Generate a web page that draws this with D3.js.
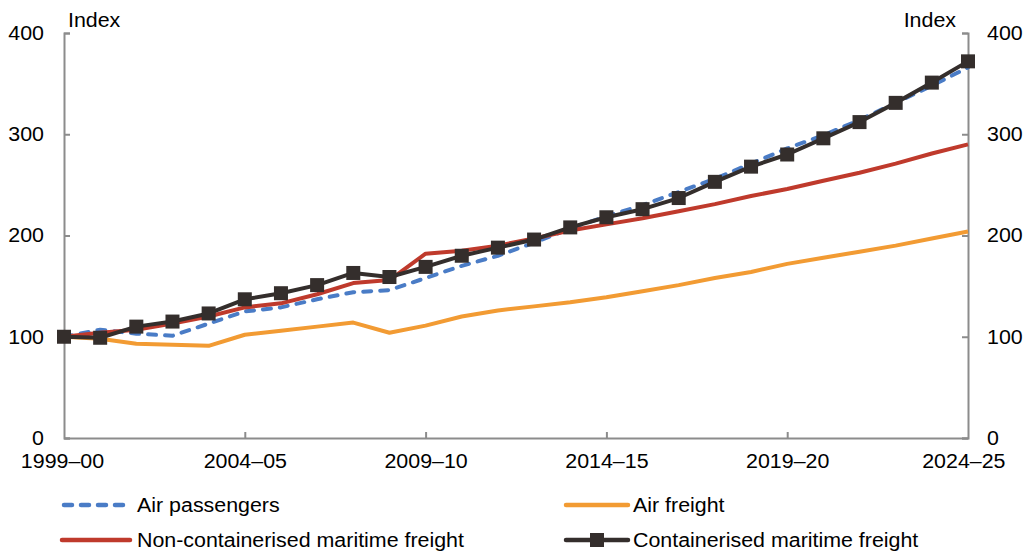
<!DOCTYPE html>
<html>
<head>
<meta charset="utf-8">
<script src="https://cdn.jsdelivr.net/npm/d3@7/dist/d3.min.js"></script>
<style>
  html, body { margin: 0; padding: 0; background: #fff; }
  svg { display: block; font-family: "Liberation Sans", Arial, sans-serif; }
</style>
</head>
<body>
<svg id="chart" width="1024" height="551"></svg>
<script>
// Financial years shown on the x axis
const years = [
  "1999–00","2000–01","2001–02","2002–03","2003–04","2004–05","2005–06","2006–07",
  "2007–08","2008–09","2009–10","2010–11","2011–12","2012–13","2013–14","2014–15",
  "2015–16","2016–17","2017–18","2018–19","2019–20","2020–21","2021–22","2022–23",
  "2023–24","2024–25"
];
const xTickLabels = ["1999–00","2004–05","2009–10","2014–15","2019–20","2024–25"];
const yTicks = [0, 100, 200, 300, 400];

// Index values (1999–00 = 100)
const airPassengers = [100,107,103,101,113,125,129,137,144,146,158,170,180,193,207,219,230,243,256,271,286,299,314,331,348,366];
const airFreight = [100,98,93,92,91,102,106,110,114,104,111,120,126,130,134,139,145,151,158,164,172,178,184,190,197,204];
const nonContainerised = [100,104,107,113,120,129,133,142,153,156,182,185,190,197,205,211,217,224,231,239,246,254,262,271,281,290];
const containerised = [100,99,110,115,123,137,143,151,163,159,169,180,188,196,208,218,226,237,253,268,280,296,312,331,351,372];

const series = [
  { name: "Air passengers", values: airPassengers, color: "#4a7cc6", dash: "8,9", cap: "round" },
  { name: "Air freight", values: airFreight, color: "#f29b33" },
  { name: "Non-containerised maritime freight", values: nonContainerised, color: "#bf3a2c" },
  { name: "Containerised maritime freight", values: containerised, color: "#342e2c", marker: true }
];

const svg = d3.select("#chart");
const plotLeft = 64, plotRight = 968, plotTop = 33, plotBottom = 438;
const axisColor = "#8c8c8c";
const fontSize = 20, widen = 1.07;

// Slightly widen text glyphs around each label's own anchor point
function widenText(sel) {
  sel.each(function () {
    const t = d3.select(this);
    const ax = +t.attr("x") || 0;
    t.attr("transform", `translate(${ax},0) scale(${widen},1) translate(${-ax},0)`);
  });
}

const x = d3.scalePoint().domain(years).range([plotLeft, plotRight]);
const y = d3.scaleLinear().domain([0, 400]).range([plotBottom, plotTop]);

// Axes: ticks point inward on all three sides
const axisStyle = g => {
  g.select(".domain").attr("stroke", axisColor).attr("stroke-width", 2);
  g.selectAll(".tick line").attr("stroke", axisColor).attr("stroke-width", 2);
  g.selectAll(".tick text").attr("fill", "#000").attr("font-size", fontSize)
    .attr("font-family", "'Liberation Sans', Arial, sans-serif");
};

const yLeft = svg.append("g")
  .attr("transform", `translate(${plotLeft},0)`)
  .call(d3.axisLeft(y).tickValues(yTicks).tickSizeInner(-6).tickSizeOuter(-6).tickPadding(20))
  .call(axisStyle);
widenText(yLeft.selectAll(".tick text"));

const yRight = svg.append("g")
  .attr("transform", `translate(${plotRight},0)`)
  .call(d3.axisRight(y).tickValues(yTicks).tickSizeInner(-6).tickSizeOuter(-6).tickPadding(19))
  .call(axisStyle);
widenText(yRight.selectAll(".tick text"));

const xAxis = svg.append("g")
  .attr("transform", `translate(0,${plotBottom})`)
  .call(d3.axisBottom(x).tickValues(xTickLabels).tickSizeInner(-6).tickSizeOuter(0).tickPadding(16))
  .call(axisStyle);
xAxis.selectAll(".tick text").attr("dy", "0.71em");
// end ticks coincide with the vertical axes
xAxis.selectAll(".tick").filter(d => d === years[0] || d === years[years.length - 1])
  .select("line").remove();
xAxis.selectAll(".tick").filter(d => d === years[0])
  .select("text").attr("x", -2);
xAxis.selectAll(".tick").filter(d => d === years[years.length - 1])
  .select("text").attr("text-anchor", "end").attr("x", 37);
widenText(xAxis.selectAll(".tick text"));

// Axis unit labels
svg.append("text").attr("x", 68).attr("y", 27).attr("font-size", fontSize).text("Index")
  .call(widenText);
svg.append("text").attr("x", 956).attr("y", 27).attr("font-size", fontSize)
  .attr("text-anchor", "end").text("Index").call(widenText);

// Lines
const line = d3.line().x((d, i) => x(years[i])).y(d => y(d));
const plot = svg.append("g");
series.forEach(s => {
  plot.append("path")
    .attr("d", line(s.values))
    .attr("fill", "none")
    .attr("stroke", s.color)
    .attr("stroke-width", 4)
    .attr("stroke-linejoin", "round")
    .attr("stroke-linecap", s.cap || "butt")
    .attr("stroke-dasharray", s.dash || null);
  if (s.marker) {
    plot.selectAll(null).data(s.values).enter().append("rect")
      .attr("x", (d, i) => x(years[i]) - 7)
      .attr("y", d => y(d) - 7)
      .attr("width", 14).attr("height", 14)
      .attr("fill", s.color);
  }
});

// Legend, two columns: sample line start/end and text start per entry
const legendPos = [
  { x1: 62, x2: 130, tx: 137, ly: 505 }, { x1: 566, x2: 628, tx: 633, ly: 505 },
  { x1: 62, x2: 130, tx: 137, ly: 540 }, { x1: 566, x2: 628, tx: 633, ly: 540 }
];
series.forEach((s, i) => {
  const p = legendPos[i];
  const g = svg.append("g");
  g.append("line")
    .attr("x1", p.x1 + (s.cap ? 2 : 0)).attr("x2", p.x2 - (s.cap ? 2 : 0))
    .attr("y1", p.ly).attr("y2", p.ly)
    .attr("stroke", s.color).attr("stroke-width", 4.5)
    .attr("stroke-linecap", s.cap || "round")
    .attr("stroke-dasharray", s.dash || null);
  if (s.marker) {
    g.append("rect").attr("x", (p.x1 + p.x2) / 2 - 7).attr("y", p.ly - 7)
      .attr("width", 14).attr("height", 14).attr("fill", s.color);
  }
  g.append("text").attr("x", p.tx).attr("y", p.ly + 7)
    .attr("font-size", fontSize).text(s.name).call(widenText);
});
</script>
</body>
</html>
